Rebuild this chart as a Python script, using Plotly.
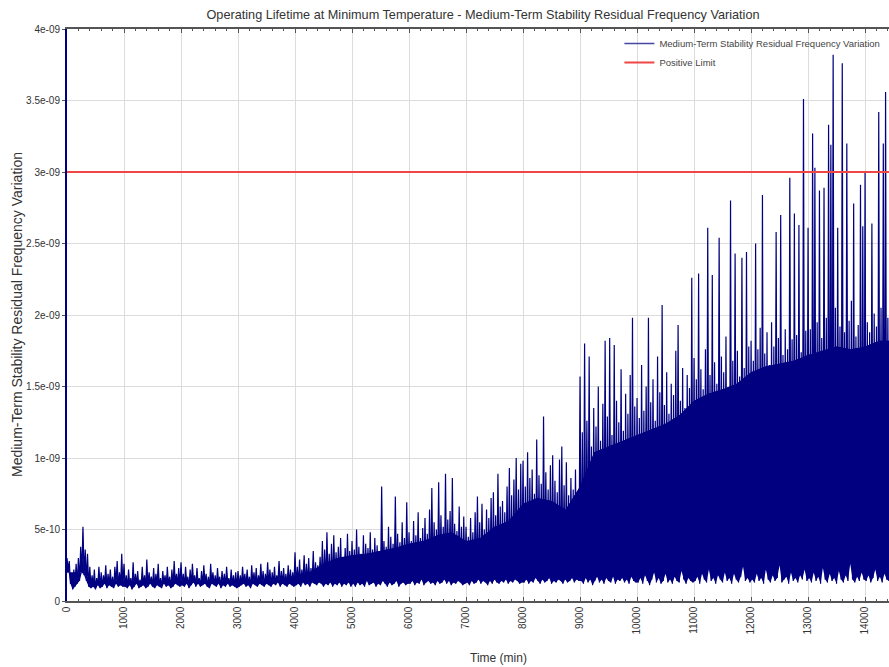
import numpy as np
import plotly.graph_objects as go

# Sampled residual frequency variation, in units of 1e-11.
# One local maximum and one local minimum per 40-minute window.
SAMPLE_MIN = 40
SCALE = 1e-11

# 0 - 3999 min
peaks_early = [
    30, 28, 18, 22, 26, 30, 38, 52, 36, 33, 24, 18, 22, 16, 24, 20, 18, 25, 19, 22, 17, 24, 28, 20, 33,
    26, 18, 22, 16, 27, 19, 21, 15, 24, 18, 29, 20, 17, 23, 19, 26, 16, 21, 18, 24, 17, 22, 28, 19, 23,
    27, 19, 24, 17, 22, 26, 18, 23, 16, 21, 25, 19, 17, 26, 20, 18, 23, 17, 21, 19, 24, 16, 22, 18, 20,
    21, 18, 24, 19, 22, 17, 25, 20, 23, 18, 26, 21, 19, 27, 22, 20, 24, 18, 28, 21, 23, 19, 25, 22, 20,
]
troughs_early = [
    22, 12, 8, 10, 12, 14, 20, 18, 14, 10, 9, 10, 8, 11, 9, 10, 12, 9, 11, 10, 9, 12, 10, 11, 10,
    10, 9, 11, 8, 10, 12, 9, 10, 11, 9, 10, 12, 10, 9, 11, 10, 9, 12, 10, 11, 9, 10, 12, 11, 10,
    11, 10, 12, 9, 11, 13, 10, 12, 10, 11, 12, 10, 9, 12, 11, 10, 12, 9, 11, 10, 12, 10, 11, 10, 9,
    10, 11, 12, 10, 11, 9, 12, 11, 10, 12, 11, 10, 12, 11, 10, 12, 11, 13, 10, 12, 11, 10, 12, 11, 10,
]

# 4000 - 8999 min
peaks_mid = [
    34, 24, 29, 22, 32, 26, 30, 23, 35, 27, 25, 31, 42, 36, 48, 33, 40, 46, 34, 38, 44, 31, 37, 47, 35,
    42, 36, 50, 38, 33, 46, 40, 37, 48, 36, 44, 39, 35, 80, 42, 38, 52, 45, 40, 73, 47, 41, 55, 44, 69,
    48, 42, 56, 46, 62, 44, 51, 58, 47, 64, 79, 55, 50, 83, 60, 52, 89, 57, 63, 86, 54, 49, 66, 52, 59,
    52, 45, 58, 48, 62, 73, 55, 68, 50, 64, 58, 72, 76, 60, 89, 66, 70, 62, 80, 93, 74, 85, 100, 78, 96,
    98, 80, 104, 86, 92, 75, 113, 88, 82, 129, 90, 78, 95, 102, 84, 76, 99, 108, 81, 97, 74, 86, 78, 92, 70,
]
troughs_mid = [
    11, 12, 10, 13, 11, 12, 10, 13, 12, 11, 13, 12, 10, 12, 11, 13, 10, 12, 11, 13, 10, 12, 11, 13, 10,
    12, 10, 13, 11, 12, 10, 14, 11, 12, 13, 10, 12, 11, 14, 12, 10, 13, 11, 12, 14, 10, 12, 13, 11, 12,
    12, 14, 11, 13, 12, 15, 11, 13, 14, 12, 13, 11, 14, 12, 13, 15, 12, 14, 11, 13, 12, 14, 13, 11, 12,
    13, 11, 14, 12, 13, 15, 12, 14, 13, 11, 14, 12, 15, 13, 12, 14, 13, 15, 12, 14, 13, 15, 14, 12, 13,
    13, 15, 12, 14, 13, 16, 14, 12, 15, 13, 14, 16, 12, 14, 13, 15, 14, 12, 15, 13, 14, 16, 13, 15, 14,
]

# 9000 - 14440 min
peaks_late = [
    157, 118, 180, 126, 171, 108, 135, 122, 150, 112, 138, 182, 129, 184, 116, 179, 140, 125, 162, 119, 145, 131, 158, 198, 136,
    142, 128, 165, 133, 150, 198, 139, 155, 126, 171, 146, 207, 137, 160, 131, 152, 144, 175, 193, 140, 163, 135, 158, 149, 226,
    170, 155, 229, 162, 148, 176, 261, 158, 228, 167, 152, 254, 171, 160, 185, 149, 280, 168, 243, 175, 157, 240, 163, 244, 178,
    182, 168, 250, 176, 191, 284, 173, 188, 165, 195, 178, 258, 184, 270, 172, 190, 176, 296, 183, 271, 186, 263, 174, 351, 189,
    261, 190, 327, 303, 195, 287, 184, 289, 198, 333, 319, 382, 205, 261, 192, 376, 188, 320, 196, 210, 278, 185, 193, 291, 262,
    300, 195, 188, 264, 201, 192, 342, 205, 320, 356, 198, 310,
]
troughs_late = [
    14, 12, 16, 13, 15, 11, 14, 17, 13, 15, 12, 16, 14, 13, 17, 12, 15, 14, 16, 13, 15, 12, 17, 14, 13,
    13, 16, 12, 18, 14, 11, 15, 20, 13, 16, 12, 14, 19, 13, 15, 12, 17, 14, 13, 21, 15, 12, 16, 14, 13,
    14, 17, 12, 19, 15, 13, 22, 14, 16, 12, 18, 15, 13, 20, 14, 16, 12, 19, 15, 13, 17, 24, 14, 16, 13,
    15, 13, 19, 14, 16, 12, 22, 15, 13, 18, 14, 16, 25, 13, 15, 17, 12, 20, 14, 16, 13, 18, 15, 22, 14,
    16, 13, 20, 14, 17, 12, 23, 15, 13, 19, 14, 16, 12, 21, 15, 13, 18, 14, 26, 15, 13, 17, 14, 20, 15,
    14, 18, 13, 16, 22, 14, 17, 13, 19, 15, 14, 16,
]

# Level below which the samples overlap into a solid band,
# units of 1e-11, one value every 250 minutes from 0 to 14500 min.
BAND_MIN = 250
band_top = [
    20, 20, 14, 14, 14, 14, 14, 14, 14, 14, 14, 14, 14, 14, 14, 15,
    18, 20, 26, 30, 32, 33, 35, 37, 40, 42, 46, 48, 42, 44, 52, 56,
    68, 72, 70, 64, 80, 104, 108, 112, 116, 120, 124, 130, 140, 145,
    148, 152, 160, 164, 166, 168, 172, 175, 178, 176, 178, 182, 182,
]

positive_limit = 3e-9
x_ticks = list(range(0, 15000, 1000))
y_ticks = [0, 5e-10, 1e-9, 1.5e-9, 2e-9, 2.5e-9, 3e-9, 3.5e-9, 4e-9]
y_tick_text = ["0", "5e-10", "1e-09", "1.5e-09", "2e-09", "2.5e-09", "3e-09", "3.5e-09", "4e-09"]

SERIES_NAME = "Medium-Term Stability Residual Frequency Variation"
LIMIT_NAME = "Positive Limit"

# Interleave maxima and minima into one time series
peaks = np.array(peaks_early + peaks_mid + peaks_late, dtype=float) * SCALE
troughs = np.array(troughs_early + troughs_mid + troughs_late, dtype=float) * SCALE
t_peak = np.arange(len(peaks)) * SAMPLE_MIN
t_trough = t_peak + SAMPLE_MIN / 2
time = np.column_stack([t_peak, t_trough]).ravel()
value = np.column_stack([peaks, troughs]).ravel()

t_band = np.arange(len(band_top)) * BAND_MIN
band = np.array(band_top, dtype=float) * SCALE

NAVY = "rgb(0,0,128)"
RED = "rgb(240,70,70)"
FONT = "Liberation Sans, Arial, sans-serif"

fig = go.Figure()
# baseline through the minima
fig.add_trace(go.Scatter(
    x=t_trough, y=troughs, mode="lines", line=dict(width=0, color=NAVY),
    showlegend=False, hoverinfo="skip",
))
# solid core of the trace
fig.add_trace(go.Scatter(
    x=t_band, y=band, mode="lines", line=dict(width=0, color=NAVY),
    fill="tonexty", fillcolor=NAVY, showlegend=False, hoverinfo="skip",
))
# the sampled trace itself
fig.add_trace(go.Scatter(
    x=time, y=value, mode="lines",
    line=dict(color=NAVY, width=1.2),
    fill="tonexty", fillcolor=NAVY,
    name=SERIES_NAME, showlegend=False,
))
# legend entries (line symbols only)
fig.add_trace(go.Scatter(
    x=[None], y=[None], mode="lines", line=dict(color="rgb(70,70,165)", width=1.5),
    name=SERIES_NAME,
))
fig.add_trace(go.Scatter(
    x=[0, 14420], y=[positive_limit, positive_limit], mode="lines",
    line=dict(color=RED, width=2),
    name=LIMIT_NAME,
))

fig.update_layout(
    width=889, height=667,
    margin=dict(l=67, r=0, t=29, b=66),
    paper_bgcolor="white", plot_bgcolor="white",
    font=dict(family=FONT, color="#333333", size=10),
    showlegend=True,
    title=dict(
        text="Operating Lifetime at Minimum Temperature - Medium-Term Stability Residual Frequency Variation",
        x=(483 - 67) / 822, xref="paper", xanchor="center",
        y=1 - 15 / 667, yref="container", yanchor="middle",
        font=dict(size=12.7, color="#333333", family=FONT),
    ),
    legend=dict(
        x=0.672, y=1.0, xanchor="left", yanchor="top",
        bgcolor="rgba(0,0,0,0)", borderwidth=0, traceorder="normal",
        font=dict(size=9.5, color="#444444", family=FONT),
        itemwidth=30, tracegroupgap=0,
    ),
    xaxis=dict(
        range=[0, 14420], tickvals=x_ticks, ticktext=[str(v) for v in x_ticks],
        tickangle=-90, ticks="inside", ticklen=4, tickcolor="#555555",
        minor=dict(dtick=200, ticks="inside", ticklen=2, tickcolor="#555555", showgrid=False),
        showgrid=True, gridcolor="#dcdcdc", gridwidth=1,
        showline=True, linecolor="#555555", linewidth=1.5, mirror="ticks",
        zeroline=False, tickfont=dict(size=10, color="#333333"),
    ),
    yaxis=dict(
        range=[0, 4e-9], tickvals=y_ticks, ticktext=y_tick_text,
        ticks="outside", ticklen=3, tickcolor="#555555",
        showgrid=True, gridcolor="#dcdcdc", gridwidth=1,
        showline=True, linecolor=NAVY, linewidth=2,
        zeroline=False, tickfont=dict(size=10, color="#333333"),
    ),
    annotations=[
        dict(text=SERIES_NAME, textangle=-90,
             xref="paper", yref="paper", x=(17 - 67) / 822, y=(601 - 315) / 572,
             xanchor="center", yanchor="middle", showarrow=False,
             font=dict(size=14, color="#333333", family=FONT)),
        dict(text="Time (min)", xref="paper", yref="paper",
             x=(498 - 67) / 822, y=(601 - 658) / 572, xanchor="center", yanchor="middle",
             showarrow=False, font=dict(size=12, color="#333333", family=FONT)),
    ],
)

fig.write_html("out.html")
